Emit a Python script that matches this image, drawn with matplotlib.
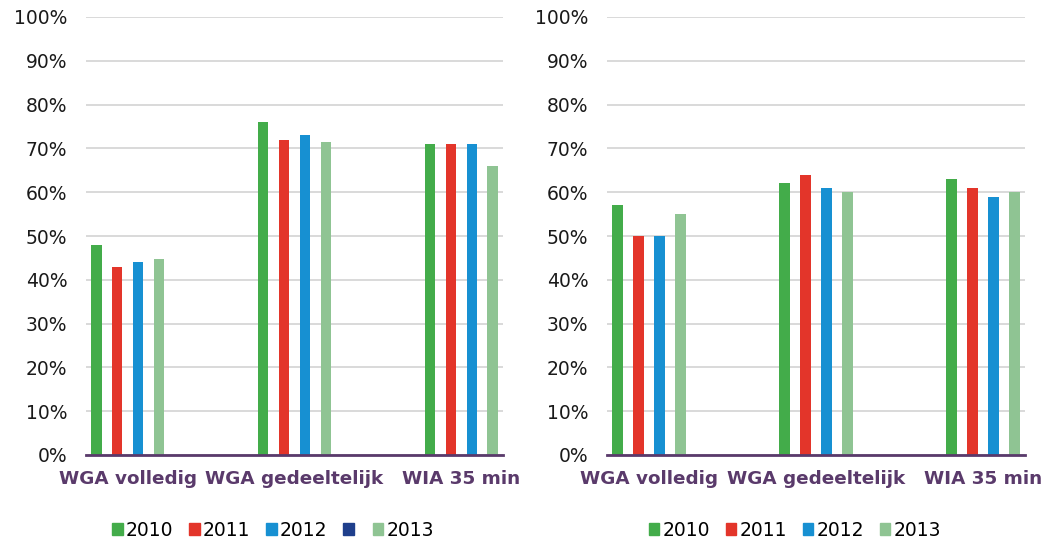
import numpy as np
import matplotlib.pyplot as plt
from matplotlib.patches import Patch
from matplotlib.ticker import FuncFormatter

categories = ['WGA volledig', 'WGA gedeeltelijk', 'WIA 35 min']
years = ['2010', '2011', '2012', '2013']

left_values = {
    '2010': [48, 76, 71],
    '2011': [43, 72, 71],
    '2012': [44, 73, 71],
    '2013': [44.7, 71.5, 66],
}
right_values = {
    '2010': [57, 62, 63],
    '2011': [50, 64, 61],
    '2012': [50, 61, 59],
    '2013': [55, 60, 60],
}

colors = {'2010': '#43AC4A', '2011': '#E3352A', '2012': '#1790D2',
          '2013': '#8FC493', 'blank': '#1F3F8C'}
purple = '#5A3A6B'

W, H = 1051, 543
fig = plt.figure(figsize=(W / 100, H / 100), dpi=100)


def draw_panel(ax, values):
    x = np.arange(len(categories)) * 2
    step = 0.251
    width = 0.126
    for i, y in enumerate(years):
        ax.bar(x + (i - 1.5) * step, values[y], width, color=colors[y],
               zorder=3)
    ax.set_xlim(-0.5, 4.5)
    ax.set_ylim(0, 100)
    ax.set_yticks(np.arange(0, 101, 10))
    ax.yaxis.set_major_formatter(FuncFormatter(lambda v, p: '%d%%' % v))
    ax.set_xticks(x)
    ax.set_xticklabels(categories, fontsize=13.2, fontweight='bold',
                       color=purple)
    ax.grid(axis='y', color='#D9D9D9', linewidth=1.4, zorder=0)
    for s in ['top', 'right', 'left']:
        ax.spines[s].set_visible(False)
    ax.spines['bottom'].set_color(purple)
    ax.spines['bottom'].set_linewidth(2)
    ax.spines['bottom'].set_zorder(4)
    ax.tick_params(axis='y', length=0, pad=13.5, labelsize=13.5,
                   labelcolor='#1a1a1a')
    ax.tick_params(axis='x', length=0, pad=11)


ax1 = fig.add_axes([86 / W, 88 / H, 417 / W, 438 / H])
ax2 = fig.add_axes([607 / W, 88 / H, 418 / W, 438 / H])
draw_panel(ax1, left_values)
draw_panel(ax2, right_values)

h_left = [Patch(color=colors[y]) for y in years[:3]] + \
         [Patch(color=colors['blank']), Patch(color=colors['2013'])]
l_left = years[:3] + ['', '2013']
h_right = [Patch(color=colors[y]) for y in years]

leg_kw = dict(loc='center', frameon=False, fontsize=13.5, handlelength=0.55,
              handleheight=0.55, handletextpad=0.17, columnspacing=0.85)
fig.legend(h_left, l_left, ncol=5, bbox_to_anchor=(273 / W, 13 / H), **leg_kw)
fig.legend(h_right, years, ncol=4, bbox_to_anchor=(795 / W, 13 / H), **leg_kw)

fig.savefig('out.png', dpi=100)
